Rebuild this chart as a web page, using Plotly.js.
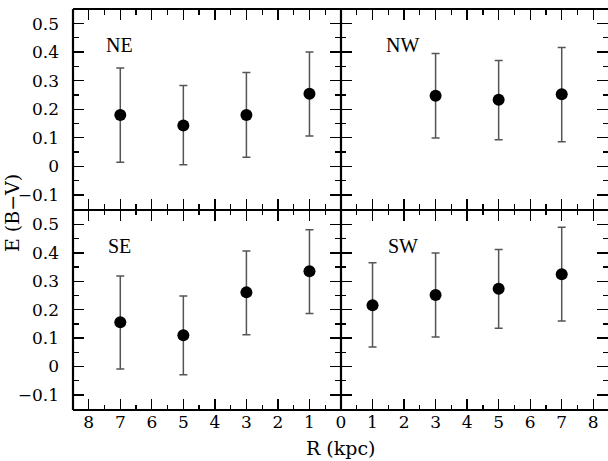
<!DOCTYPE html>
<html>
<head>
<meta charset="utf-8">
<script src="https://cdn.plot.ly/plotly-3.0.1.min.js"></script>
<style>html,body{margin:0;padding:0;background:#fff}#chart{width:608px;height:461px}</style>
</head>
<body>
<div id="chart"></div>
<script>
// Radii (kpc)
const radiusNE = [7, 5, 3, 1];
const radiusNW = [3, 5, 7];
const radiusSE = [7, 5, 3, 1];
const radiusSW = [1, 3, 5, 7];
// E(B-V) values
const ebvNE = [0.180, 0.143, 0.180, 0.254];
const ebvNW = [0.247, 0.233, 0.252];
const ebvSE = [0.156, 0.110, 0.261, 0.335];
const ebvSW = [0.216, 0.252, 0.274, 0.325];
// upper / lower error bar ends
const hiNE = [0.344, 0.283, 0.329, 0.400];
const loNE = [0.014, 0.005, 0.032, 0.106];
const hiNW = [0.395, 0.371, 0.416];
const loNW = [0.099, 0.093, 0.086];
const hiSE = [0.319, 0.248, 0.407, 0.481];
const loSE = [-0.009, -0.029, 0.112, 0.187];
const hiSW = [0.365, 0.400, 0.412, 0.490];
const loSW = [0.069, 0.104, 0.135, 0.160];
const panelNames = ['NE', 'NW', 'SE', 'SW'];
const yTickVals = [-0.1, 0, 0.1, 0.2, 0.3, 0.4, 0.5];
const yTickText = ['\u22120.1', '0', '0.1', '0.2', '0.3', '0.4', '0.5'];
const xTickLeft = [1, 2, 3, 4, 5, 6, 7, 8];
const xTickRight = [0, 1, 2, 3, 4, 5, 6, 7, 8];

function trace(x, y, hi, lo, xa, ya) {
  return {
    type: 'scatter', mode: 'markers', x: x, y: y, xaxis: xa, yaxis: ya,
    marker: {color: '#000', size: 12},
    error_y: {type: 'data', symmetric: false,
      array: hi.map((h, i) => h - y[i]),
      arrayminus: lo.map((l, i) => y[i] - l),
      color: '#555', thickness: 1.5, width: 4},
    showlegend: false, hoverinfo: 'skip'
  };
}
const data = [
  trace(radiusNE, ebvNE, hiNE, loNE, 'x', 'y'),
  trace(radiusNW, ebvNW, hiNW, loNW, 'x2', 'y2'),
  trace(radiusSE, ebvSE, hiSE, loSE, 'x3', 'y3'),
  trace(radiusSW, ebvSW, hiSW, loSW, 'x4', 'y4')
];

const XM = 0.50093, YM = 0.4988;
const tickFont = {family: 'DejaVu Serif', size: 17, color: '#000'};
const titleFont = {family: 'DejaVu Serif', size: 19, color: '#000'};
function xa(dom, range, vals, labels, anchor) {
  return {domain: dom, range: range, anchor: anchor, showgrid: false, zeroline: false,
    showline: false, mirror: 'allticks', ticks: 'inside', ticklen: 11, tickwidth: 1.3, tickcolor: '#000',
    tickmode: 'array', tickvals: vals, ticktext: vals.map(String), showticklabels: labels,
    tickfont: tickFont, ticklabelstandoff: 0,
    minor: {ticks: 'inside', ticklen: 5.5, tickwidth: 1.3, tickcolor: '#000', dtick: 0.5, tick0: 0, showgrid: false}};
}
function ya(dom, labels, anchor) {
  return {domain: dom, range: [-0.153, 0.551], anchor: anchor, showgrid: false, zeroline: false,
    showline: false, mirror: 'allticks', ticks: 'inside', ticklen: 11, tickwidth: 1.3, tickcolor: '#000',
    tickmode: 'array', tickvals: yTickVals, ticktext: yTickText, showticklabels: labels,
    tickfont: tickFont, ticklabelstandoff: 13,
    minor: {ticks: 'inside', ticklen: 5.5, tickwidth: 1.3, tickcolor: '#000', dtick: 0.05, tick0: 0, showgrid: false}};
}
const lw = 2.2;
const panelFont = {family: 'Liberation Serif', size: 20, color: '#000'};
function ann(text, x, y, font, angle) {
  return {text: text, xref: 'paper', yref: 'paper', x: x, y: y, xanchor: 'center', yanchor: 'middle',
    showarrow: false, font: font, textangle: angle || 0};
}
const layout = {
  width: 608, height: 461,
  margin: {l: 73, r: 0, t: 9, b: 51},
  paper_bgcolor: '#fff', plot_bgcolor: '#fff',
  xaxis: xa([0, XM], [8.5, 0], xTickLeft, false, 'y'),
  yaxis: ya([YM, 1], true, 'x'),
  xaxis2: xa([XM, 1], [0, 8.468], xTickRight, false, 'y2'),
  yaxis2: ya([YM, 1], false, 'x2'),
  xaxis3: xa([0, XM], [8.5, 0], xTickLeft, true, 'y3'),
  yaxis3: ya([0, YM], true, 'x3'),
  xaxis4: xa([XM, 1], [0, 8.468], xTickRight, true, 'y4'),
  yaxis4: ya([0, YM], false, 'x4'),
  shapes: [
    {type: 'line', xref: 'paper', yref: 'paper', x0: 0, x1: 1, y0: 1, y1: 1, line: {color: '#000', width: lw}},
    {type: 'line', xref: 'paper', yref: 'paper', x0: 0, x1: 1, y0: 0, y1: 0, line: {color: '#000', width: lw}},
    {type: 'line', xref: 'paper', yref: 'paper', x0: 0, x1: 1, y0: YM, y1: YM, line: {color: '#000', width: lw}},
    {type: 'line', xref: 'paper', yref: 'paper', x0: 0, x1: 0, y0: 0, y1: 1, line: {color: '#000', width: lw}},
    {type: 'line', xref: 'paper', yref: 'paper', x0: XM, x1: XM, y0: 0, y1: 1, line: {color: '#000', width: lw}}
  ],
  annotations: [
    ann(panelNames[0], 0.0878, 0.910, panelFont),
    ann(panelNames[1], 0.6168, 0.910, panelFont),
    ann(panelNames[2], 0.0860, 0.409, panelFont),
    ann(panelNames[3], 0.6168, 0.409, panelFont),
    ann('E (B\u2212V)', -0.114, 0.491, titleFont, -90),
    ann('R (kpc)', XM, -0.0948, titleFont)
  ]
};
Plotly.newPlot('chart', data, layout, {staticPlot: true, displayModeBar: false});
</script>
</body>
</html>
